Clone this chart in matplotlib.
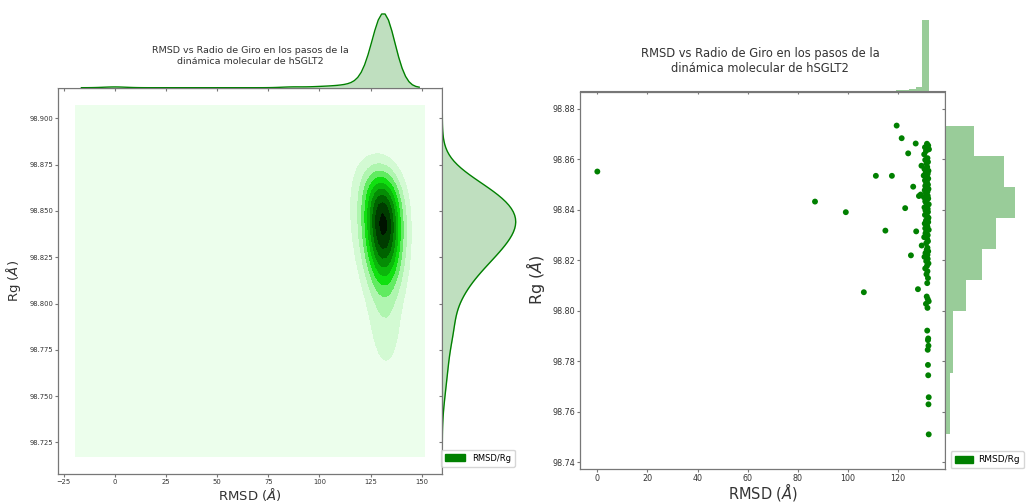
import numpy as np
import matplotlib
matplotlib.use('Agg')
import matplotlib.pyplot as plt
from matplotlib.colors import LinearSegmentedColormap
from matplotlib.patches import Patch

# frames away from the main cluster (RMSD, Rg)
rmsd_outliers = [0.0, 86.9, 99.2, 106.4, 111.2, 115.0, 117.6, 119.5, 121.5,
                 122.9, 124.1, 125.2, 126.1, 127.1, 127.3, 128.0, 128.4]
rg_outliers = [98.8552, 98.8433, 98.8391, 98.8074, 98.8535, 98.8318, 98.8535, 98.8734, 98.8684,
               98.8407, 98.8624, 98.8220, 98.8492, 98.8663, 98.8315, 98.8086, 98.8455]

# frames in the dense column near RMSD ~ 131
rmsd_column = [131.6, 132.1, 130.8, 131.9, 132.4, 131.2, 130.5,
               131.8, 130.9, 132.0, 131.4, 129.4, 131.7, 130.6, 132.2, 131.1, 131.9, 130.3, 131.5,
               132.1, 130.8, 131.6, 131.3, 132.0, 130.9,
               131.5, 132.2, 130.7, 131.8, 131.2, 129.1, 131.9, 130.4, 132.1, 131.6, 130.9, 131.3,
               132.3, 131.7, 130.6, 131.9, 131.0, 132.0, 131.4, 130.8, 131.7, 132.2,
               131.9, 131.2, 132.1, 130.7, 131.6, 131.8, 130.9, 132.3, 131.4, 131.0, 131.9, 130.5,
               131.7, 132.0, 131.3, 129.5, 131.8,
               131.5, 132.1, 131.0, 131.8, 130.6, 131.9, 131.3, 132.2, 131.6, 130.9, 131.8, 131.4, 132.0,
               131.7, 131.5, 131.9, 132.3, 131.2, 131.8,
               131.7, 132.1, 132.0,
               132.2, 131.9, 132.0,
               132.1, 132.3,
               132.2, 132.3]
rg_column = [98.8662, 98.8655, 98.8648, 98.8644, 98.8640, 98.8633, 98.8620,
             98.8605, 98.8598, 98.8590, 98.8583, 98.8575, 98.8570, 98.8562, 98.8555, 98.8548, 98.8543,
             98.8536, 98.8530, 98.8524, 98.8517, 98.8510, 98.8505, 98.8500, 98.8495,
             98.8488, 98.8483, 98.8478, 98.8472, 98.8466, 98.8461, 98.8456, 98.8450, 98.8445, 98.8440,
             98.8434, 98.8428, 98.8422, 98.8416, 98.8410, 98.8404, 98.8398, 98.8392, 98.8386, 98.8380,
             98.8374, 98.8369,
             98.8364, 98.8358, 98.8352, 98.8346, 98.8340, 98.8333, 98.8327, 98.8321, 98.8314, 98.8307,
             98.8300, 98.8292, 98.8284, 98.8276, 98.8268, 98.8259, 98.8250,
             98.8242, 98.8236, 98.8229, 98.8222, 98.8214, 98.8206, 98.8197, 98.8188, 98.8178, 98.8168,
             98.8157, 98.8145, 98.8130,
             98.8110, 98.8057, 98.8047, 98.8038, 98.8028, 98.8012,
             98.7922, 98.7891, 98.7884,
             98.7862, 98.7846, 98.7786,
             98.7745, 98.7658,
             98.7630, 98.7511]

left_xticks = [-25, 0, 25, 50, 75, 100, 125, 150]
left_yticks = [98.725, 98.750, 98.775, 98.800, 98.825, 98.850, 98.875, 98.900]
right_xticks = [0, 20, 40, 60, 80, 100, 120]
right_yticks = [98.74, 98.76, 98.78, 98.80, 98.82, 98.84, 98.86, 98.88]

title = 'RMSD vs Radio de Giro en los pasos de la\ndinámica molecular de hSGLT2'
xlabel = 'RMSD ($Å$)'
ylabel = 'Rg ($Å$)'
legend_label = 'RMSD/Rg'

rmsd = np.array(rmsd_outliers + rmsd_column)
rg = np.array(rg_outliers + rg_column)

TXT = '#333333'
SPINE = '#777777'


def kde_1d(values, cut=3, gridsize=100):
    factor = len(values) ** (-1 / 5)
    bw = factor * np.std(values, ddof=1)
    grid = np.linspace(values.min() - cut * factor * values.std(),
                       values.max() + cut * factor * values.std(), gridsize)
    z = (grid[:, None] - values[None, :]) / bw
    dens = np.exp(-0.5 * z ** 2).sum(axis=1) / (len(values) * bw * np.sqrt(2 * np.pi))
    return grid, dens


def kde_2d(x, y, cut=3, gridsize=100):
    n = len(x)
    factor = n ** (-1 / 6)
    cov = np.cov(np.vstack([x, y])) * factor ** 2
    inv = np.linalg.inv(cov)
    xs = np.linspace(x.min() - cut * factor * x.std(), x.max() + cut * factor * x.std(), gridsize)
    ys = np.linspace(y.min() - cut * factor * y.std(), y.max() + cut * factor * y.std(), gridsize)
    xx, yy = np.meshgrid(xs, ys)
    dx = xx.ravel()[:, None] - x[None, :]
    dy = yy.ravel()[:, None] - y[None, :]
    q = inv[0, 0] * dx ** 2 + 2 * inv[0, 1] * dx * dy + inv[1, 1] * dy ** 2
    z = np.exp(-0.5 * q).sum(axis=1).reshape(xx.shape)
    return xx, yy, z


def style_joint(ax, tick_size, tick_len):
    for s in ax.spines.values():
        s.set_color(SPINE)
        s.set_linewidth(0.9)
    ax.tick_params(labelsize=tick_size, colors=SPINE, labelcolor=TXT,
                   length=tick_len, width=0.8, pad=1.2)


def style_marg(axx, axy, tick_len):
    for side in ['top', 'right', 'left']:
        axx.spines[side].set_visible(False)
    for side in ['top', 'right', 'bottom']:
        axy.spines[side].set_visible(False)
    axx.spines['bottom'].set_color(SPINE)
    axy.spines['left'].set_color(SPINE)
    axx.tick_params(axis='x', labelbottom=False, length=tick_len, colors=SPINE)
    axx.tick_params(axis='y', left=False, labelleft=False)
    axy.tick_params(axis='y', labelleft=False, length=tick_len, colors=SPINE)
    axy.tick_params(axis='x', bottom=False, labelbottom=False)


W, H = 1027, 503
fig = plt.figure(figsize=(W / 100, H / 100), dpi=100)


def box(l, t, r, b):
    return [l / W, 1 - b / H, (r - l) / W, (b - t) / H]


# ---- left panel: KDE joint plot ----
ax1 = fig.add_axes(box(58.3, 87.7, 442.3, 474))
ax1x = fig.add_axes(box(58.3, 10.3, 442.3, 87.7), sharex=ax1)
ax1y = fig.add_axes(box(442.3, 87.7, 519.4, 474), sharey=ax1)

cmap = LinearSegmentedColormap.from_list(
    'kde_green', [(0, '#f4fff4'), (0.1, '#e4fce4'), (0.25, '#b0f5b0'), (0.45, '#10e010'),
                  (0.75, '#006400'), (1, '#000000')])
xx, yy, zz = kde_2d(rmsd, rg)
ax1.contourf(xx, yy, zz, 10, cmap=cmap)
xr = xx.max() - xx.min()
yr = yy.max() - yy.min()
ax1.set_xlim(xx.min() - 0.05 * xr, xx.max() + 0.05 * xr)
ax1.set_ylim(yy.min() - 0.05 * yr, yy.max() + 0.05 * yr)
ax1.set_xticks(left_xticks)
ax1.set_yticks(left_yticks)
ax1.set_yticklabels(['%.3f' % v for v in left_yticks])
style_joint(ax1, 4.9, 2.2)
ax1.set_xlabel(xlabel, fontsize=9.5, color=TXT)
ax1.xaxis.label.set_va('bottom')
ax1.xaxis.set_label_coords(0.5, (474 - 502.8) / (474 - 87.7))
ax1.set_ylabel(ylabel, fontsize=9.5, color=TXT, labelpad=5)

gx, dx_ = kde_1d(rmsd)
ax1x.fill_between(gx, dx_, color='green', alpha=0.25, lw=0)
ax1x.plot(gx, dx_, color='green', lw=1)
ax1x.set_ylim(0, dx_.max() * 1.05)
gy, dy_ = kde_1d(rg)
ax1y.fill_betweenx(gy, dy_, color='green', alpha=0.25, lw=0)
ax1y.plot(dy_, gy, color='green', lw=1)
ax1y.set_xlim(0, dy_.max() * 1.05)
style_marg(ax1x, ax1y, 2.2)

fig.text(250 / W, 1 - 56 / H, title, ha='center', va='center', fontsize=6.8,
         color=TXT, linespacing=1.15)
fig.legend(handles=[Patch(color='green', label=legend_label)], loc='lower right',
           bbox_to_anchor=(519 / W, 1 - 471 / H), fontsize=6, handlelength=2.4,
           handleheight=0.9, borderpad=0.5, frameon=True, fancybox=True)

# ---- right panel: scatter joint plot ----
ax2 = fig.add_axes(box(580.3, 91.5, 945, 468.7))
ax2x = fig.add_axes(box(580.3, 16.5, 945, 91.5), sharex=ax2)
ax2y = fig.add_axes(box(945, 91.5, 1018, 468.7), sharey=ax2)

ax2.scatter(rmsd, rg, s=18, color='green', edgecolors='none')
ax2.set_xlim(-6.8, 138.8)
ax2.set_ylim(98.7375, 98.8869)
ax2.set_xticks(right_xticks)
ax2.set_yticks(right_yticks)
ax2.set_yticklabels(['%.2f' % v for v in right_yticks])
style_joint(ax2, 5.8, 2.4)
ax2.set_xlabel(xlabel, fontsize=10.5, color=TXT)
ax2.xaxis.label.set_va('bottom')
ax2.xaxis.set_label_coords(0.5, (468.7 - 503) / (468.7 - 91.5))
ax2.set_ylabel(ylabel, fontsize=11.5, color=TXT, labelpad=4)

ax2x.hist(rmsd, bins=50, density=True, color='green', alpha=0.4)
ax2y.hist(rg, bins=10, density=True, color='green', alpha=0.4, orientation='horizontal')
style_marg(ax2x, ax2y, 2.4)

fig.text(760 / W, 1 - 61 / H, title, ha='center', va='center', fontsize=8.3,
         color=TXT, linespacing=1.15)
fig.legend(handles=[Patch(color='green', label=legend_label)], loc='lower left',
           bbox_to_anchor=(946 / W, 1 - 473 / H), fontsize=6.5, handlelength=2.0,
           handleheight=0.9, borderpad=0.45, handletextpad=0.6, frameon=True, fancybox=True)

fig.savefig('out.png', dpi=100)
